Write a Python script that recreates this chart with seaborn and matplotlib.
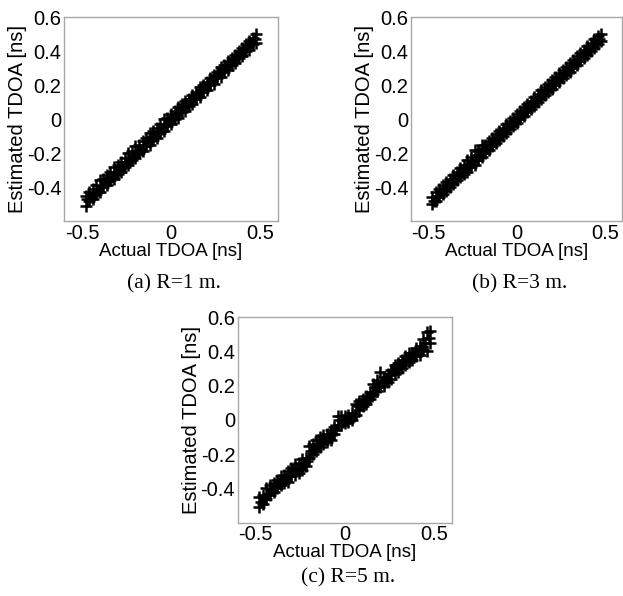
import pandas as pd
import seaborn as sns
import matplotlib.pyplot as plt

# actual TDOA grids [ns], shared by all three panels
actual = [-0.48, -0.46, -0.44, -0.42, -0.40, -0.38, -0.36, -0.34, -0.32, -0.30,
          -0.28, -0.26, -0.24, -0.22, -0.20, -0.18, -0.16, -0.14, -0.12, -0.10,
          -0.08, -0.06, -0.04, -0.02, 0.00, 0.02, 0.04, 0.06, 0.08, 0.10,
          0.12, 0.14, 0.16, 0.18, 0.20, 0.22, 0.24, 0.26, 0.28, 0.30,
          0.32, 0.34, 0.36, 0.38, 0.40, 0.42, 0.44, 0.46, 0.48]
actual_mid = [-0.47, -0.45, -0.43, -0.41, -0.39, -0.37, -0.35, -0.33, -0.31, -0.29,
              -0.27, -0.25, -0.23, -0.21, -0.19, -0.17, -0.15, -0.13, -0.11, -0.09,
              -0.07, -0.05, -0.03, -0.01, 0.01, 0.03, 0.05, 0.07, 0.09, 0.11,
              0.13, 0.15, 0.17, 0.19, 0.21, 0.23, 0.25, 0.27, 0.29, 0.31,
              0.33, 0.35, 0.37, 0.39, 0.41, 0.43, 0.45, 0.47]

# estimated TDOA (R=1 m): lower edge, upper edge, centre of the band
est_r1_lo = [-0.51, -0.48, -0.47, -0.44, -0.43, -0.40, -0.39, -0.36, -0.35, -0.32,
             -0.31, -0.28, -0.27, -0.24, -0.23, -0.20, -0.19, -0.16, -0.15, -0.12,
             -0.11, -0.08, -0.07, -0.04, -0.03, 0.00, 0.01, 0.04, 0.05, 0.08,
             0.09, 0.12, 0.13, 0.16, 0.17, 0.20, 0.21, 0.24, 0.25, 0.28,
             0.29, 0.32, 0.33, 0.36, 0.37, 0.40, 0.41, 0.44, 0.45]
est_r1_hi = [-0.45, -0.43, -0.41, -0.39, -0.36, -0.35, -0.33, -0.31, -0.28, -0.27,
             -0.25, -0.23, -0.20, -0.19, -0.16, -0.15, -0.13, -0.11, -0.08, -0.07,
             -0.05, -0.03, 0.00, 0.01, 0.03, 0.05, 0.07, 0.09, 0.11, 0.12,
             0.14, 0.16, 0.19, 0.20, 0.22, 0.24, 0.26, 0.28, 0.31, 0.32,
             0.34, 0.36, 0.38, 0.40, 0.42, 0.44, 0.46, 0.48, 0.50]
est_r1_mid = [-0.47, -0.46, -0.44, -0.42, -0.40, -0.37, -0.36, -0.34, -0.31, -0.30,
              -0.28, -0.25, -0.24, -0.22, -0.19, -0.18, -0.16, -0.13, -0.12, -0.10,
              -0.07, -0.06, -0.03, -0.01, 0.01, 0.03, 0.05, 0.07, 0.09, 0.11,
              0.13, 0.15, 0.17, 0.19, 0.21, 0.23, 0.25, 0.27, 0.29, 0.31,
              0.33, 0.35, 0.37, 0.39, 0.41, 0.43, 0.45, 0.47]

# R=3 m
est_r3_lo = [-0.50, -0.48, -0.46, -0.44, -0.42, -0.40, -0.38, -0.36, -0.34, -0.32,
             -0.31, -0.28, -0.27, -0.24, -0.22, -0.20, -0.18, -0.16, -0.14, -0.12,
             -0.10, -0.08, -0.06, -0.04, -0.02, 0.00, 0.02, 0.04, 0.06, 0.08,
             0.10, 0.12, 0.14, 0.16, 0.18, 0.20, 0.22, 0.24, 0.26, 0.28,
             0.30, 0.32, 0.34, 0.36, 0.38, 0.40, 0.42, 0.44, 0.46]
est_r3_hi = [-0.46, -0.43, -0.41, -0.39, -0.37, -0.35, -0.33, -0.31, -0.29, -0.27,
             -0.24, -0.22, -0.18, -0.19, -0.15, -0.15, -0.13, -0.11, -0.09, -0.07,
             -0.05, -0.03, -0.01, 0.01, 0.03, 0.05, 0.07, 0.09, 0.11, 0.13,
             0.15, 0.17, 0.19, 0.21, 0.23, 0.25, 0.27, 0.29, 0.31, 0.33,
             0.35, 0.37, 0.39, 0.41, 0.43, 0.45, 0.47, 0.49, 0.50]
est_r3_mid = [-0.48, -0.45, -0.43, -0.41, -0.39, -0.37, -0.35, -0.33, -0.31, -0.29,
              -0.27, -0.25, -0.21, -0.21, -0.17, -0.17, -0.15, -0.13, -0.11, -0.09,
              -0.07, -0.05, -0.03, -0.01, 0.01, 0.03, 0.05, 0.07, 0.09, 0.11,
              0.13, 0.15, 0.17, 0.19, 0.21, 0.23, 0.25, 0.27, 0.29, 0.31,
              0.33, 0.35, 0.37, 0.39, 0.41, 0.43, 0.45, 0.47]

# R=5 m (stair-like errors)
est_r5_lo = [-0.51, -0.49, -0.46, -0.44, -0.42, -0.40, -0.38, -0.37, -0.36, -0.33,
             -0.32, -0.31, -0.29, -0.27, -0.22, -0.20, -0.18, -0.16, -0.14, -0.13,
             -0.12, -0.08, -0.03, -0.03, -0.02, -0.01, 0.00, 0.03, 0.06, 0.08,
             0.09, 0.12, 0.15, 0.17, 0.19, 0.20, 0.22, 0.24, 0.27, 0.28,
             0.30, 0.32, 0.34, 0.35, 0.37, 0.38, 0.41, 0.40, 0.45]
est_r5_hi = [-0.45, -0.44, -0.40, -0.38, -0.37, -0.35, -0.33, -0.32, -0.30, -0.28,
             -0.26, -0.25, -0.23, -0.22, -0.15, -0.14, -0.12, -0.10, -0.09, -0.08,
             -0.06, -0.04, 0.02, 0.02, 0.02, 0.03, 0.04, 0.09, 0.11, 0.12,
             0.14, 0.16, 0.21, 0.23, 0.28, 0.25, 0.27, 0.29, 0.32, 0.33,
             0.35, 0.37, 0.39, 0.39, 0.42, 0.43, 0.47, 0.51, 0.52]
est_r5_mid = [-0.48, -0.46, -0.43, -0.41, -0.39, -0.37, -0.35, -0.34, -0.33, -0.30,
              -0.29, -0.28, -0.26, -0.24, -0.18, -0.17, -0.15, -0.12, -0.11, -0.10,
              -0.08, -0.06, 0.00, -0.01, 0.00, 0.01, 0.02, 0.08, 0.09, 0.10,
              0.12, 0.14, 0.19, 0.20, 0.22, 0.24, 0.26, 0.29, 0.30, 0.32,
              0.34, 0.36, 0.37, 0.38, 0.40, 0.41, 0.45, 0.48]

panels = [
    ("(a) R=1 m.", est_r1_lo, est_r1_hi, est_r1_mid, [0.103, 0.629, 0.343, 0.342], 0.523),
    ("(b) R=3 m.", est_r3_lo, est_r3_hi, est_r3_mid, [0.660, 0.629, 0.339, 0.342], 0.523),
    ("(c) R=5 m.", est_r5_lo, est_r5_hi, est_r5_mid, [0.382, 0.123, 0.343, 0.345], 0.030),
]

sns.set_style("white")
plt.rcParams['font.family'] = ['Liberation Sans', 'DejaVu Sans']
plt.rcParams['text.color'] = 'black'
plt.rcParams['axes.labelcolor'] = 'black'
plt.rcParams['xtick.labelcolor'] = 'black'
plt.rcParams['ytick.labelcolor'] = 'black'

fig = plt.figure(figsize=(6.23, 5.96), dpi=100)
frame_col = "#a8a8a8"

for caption, lo, hi, mid, rect, cap_y in panels:
    ax = fig.add_axes(rect)
    df = pd.DataFrame({"actual": actual + actual + actual_mid,
                       "estimated": lo + hi + mid})
    sns.scatterplot(data=df, x="actual", y="estimated", ax=ax, marker="+",
                    color="black", s=80, linewidth=1.8, legend=False)
    ax.set_xlim(-0.6, 0.6)
    ax.set_ylim(-0.6, 0.6)
    ax.set_xticks([-0.5, 0, 0.5])
    ax.set_xticklabels(["-0.5", "0", "0.5"])
    ax.set_yticks([-0.4, -0.2, 0, 0.2, 0.4, 0.6])
    ax.set_yticklabels(["-0.4", "-0.2", "0", "0.2", "0.4", "0.6"])
    ax.tick_params(direction="in", length=3, color=frame_col, labelsize=14.5, pad=2)
    for sp in ax.spines.values():
        sp.set_color(frame_col)
        sp.set_linewidth(1.0)
    ax.set_xlabel("Actual TDOA [ns]", fontsize=13.5, labelpad=0)
    ax.set_ylabel("Estimated TDOA [ns]", fontsize=14.5, labelpad=0)
    x0, y0, w, h = rect
    fig.text(x0 + w / 2 + 0.005, cap_y, caption, ha="center", va="center",
             fontsize=15.5, family=["Liberation Serif", "DejaVu Serif"])

fig.savefig("out.png", dpi=100)
